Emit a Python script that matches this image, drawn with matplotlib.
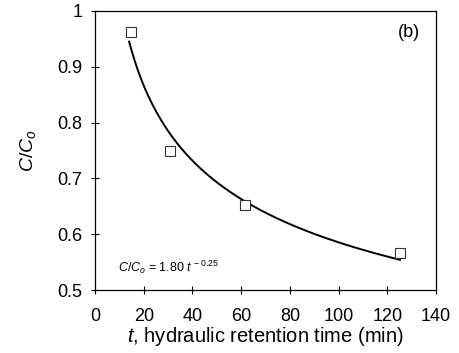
import matplotlib
matplotlib.use("Agg")
import matplotlib.pyplot as plt
import numpy as np

plt.rcParams["font.family"] = ["Liberation Sans", "DejaVu Sans"]
plt.rcParams["mathtext.fontset"] = "custom"
plt.rcParams["mathtext.rm"] = "Liberation Sans"
plt.rcParams["mathtext.it"] = "Liberation Sans:italic"

# ── data ─────────────────────────────────────────────────────────────────────
hrt_min = [14.6, 30.8, 61.6, 125.2]
c_ratio = [0.963, 0.750, 0.652, 0.566]
x_ticks = [0, 20, 40, 60, 80, 100, 120, 140]
y_ticks = [0.5, 0.6, 0.7, 0.8, 0.9, 1.0]
y_tick_labels = ["0.5", "0.6", "0.7", "0.8", "0.9", "1"]

# power-law fit C/Co = a t^b (log-log least squares on the points)
b, lna = np.polyfit(np.log(hrt_min), np.log(c_ratio), 1)
t_fit = np.linspace(min(hrt_min) - 0.6, max(hrt_min), 200)
c_fit = np.exp(lna) * t_fit ** b

fig = plt.figure(figsize=(4.59, 3.53), dpi=100)
ax = fig.add_axes([0.207, 0.178, 0.743, 0.791])

ax.plot(t_fit, c_fit, color="black", lw=1.4)
ax.plot(hrt_min, c_ratio, ls="none", marker="s", ms=7.5, mfc="white",
        mec="#333333", mew=0.8)

ax.set_xlim(0, 140)
ax.set_ylim(0.5, 1.0)
ax.set_xticks(x_ticks)
ax.set_yticks(y_ticks)
ax.set_yticklabels(y_tick_labels)
ax.tick_params(direction="inout", length=6, width=0.8, labelsize=13,
               top=False, right=False)
ax.tick_params(axis="x", pad=10)
ax.tick_params(axis="y", pad=6)
for s in ax.spines.values():
    s.set_linewidth(0.9)

ax.set_xlabel(r"$t$, hydraulic retention time (min)", fontsize=14.5, labelpad=0)
ax.set_ylabel(r"$C/C_o$", fontsize=14, labelpad=14)

ax.text(133.5, 0.962, "(b)", fontsize=13, ha="right", va="center")
ax.text(9.4, 0.532, r"$C/C_o$ = 1.80 $t^{\,-0.25}$", fontsize=9,
        ha="left", va="baseline")

fig.savefig("out.png", dpi=100)
